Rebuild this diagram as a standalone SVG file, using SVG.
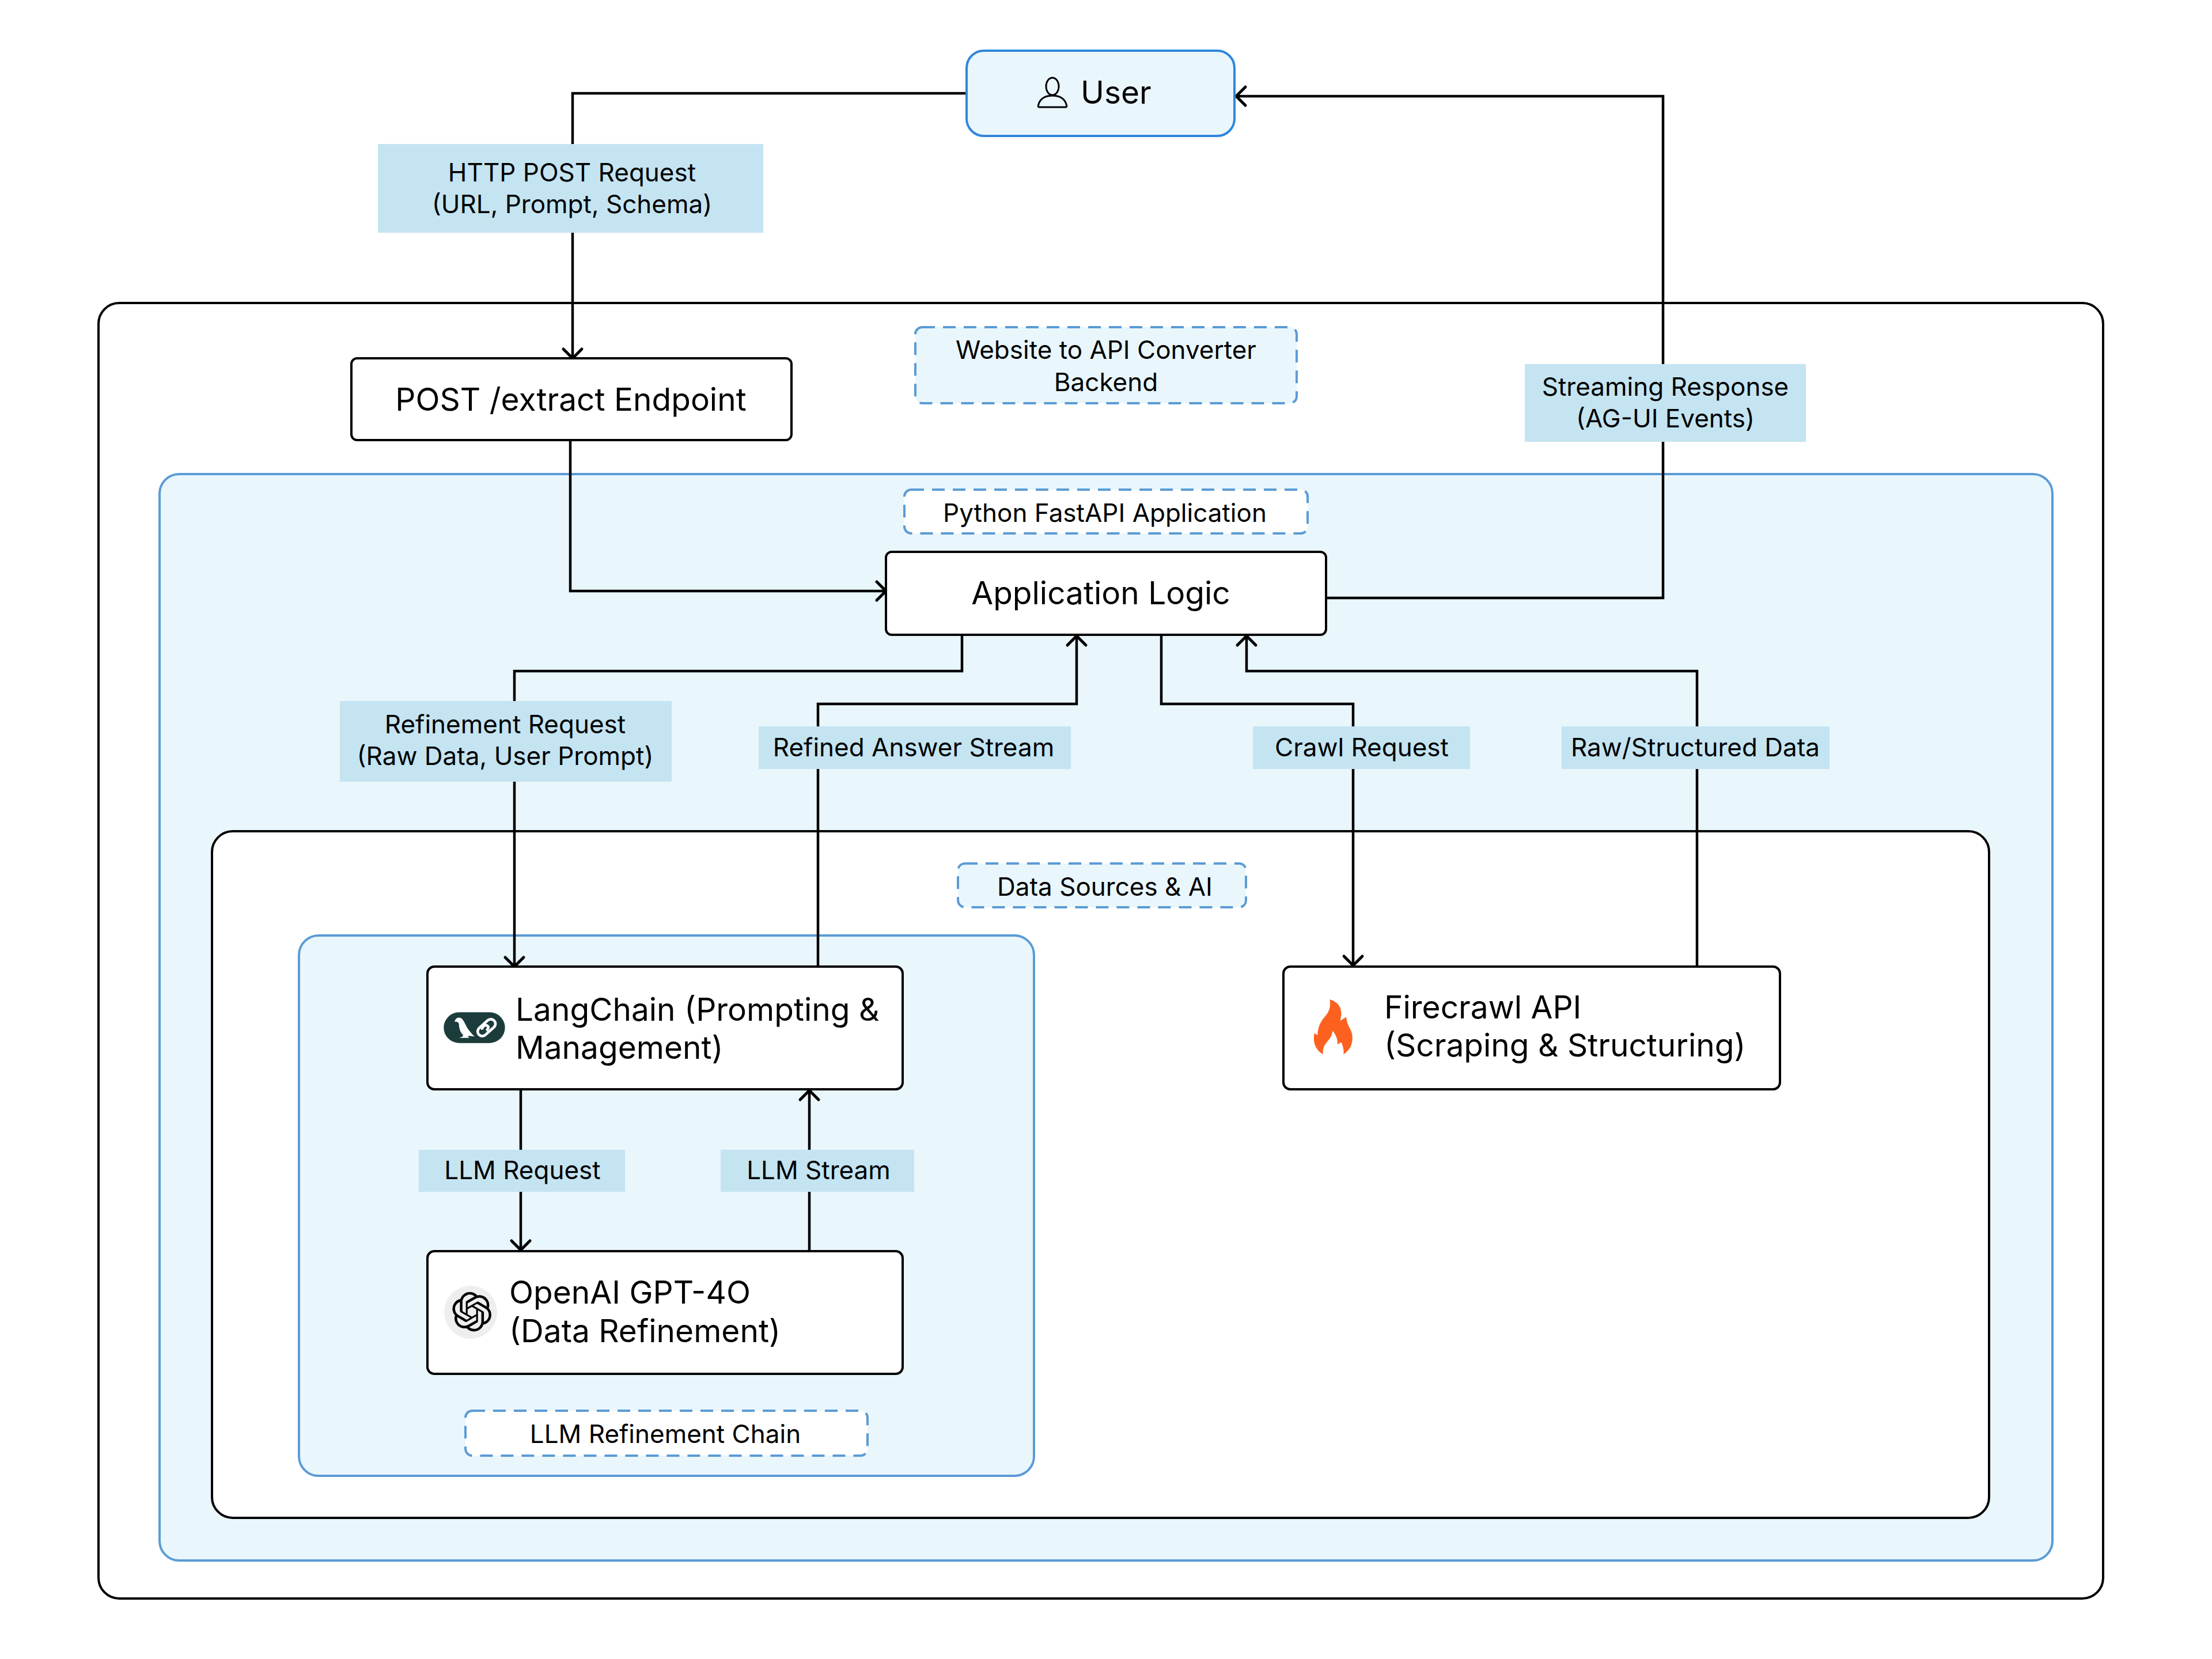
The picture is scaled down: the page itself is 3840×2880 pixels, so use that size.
<svg xmlns="http://www.w3.org/2000/svg" width="3840" height="2880" viewBox="0 0 3840 2880">
<style>
text{font-family:"Inter","Liberation Sans",sans-serif;fill:#000}
.n{font-size:55px}.l{font-size:44px;text-anchor:middle}.c{text-anchor:middle}
.box{fill:#fff;stroke:#000;stroke-width:4}
.grp{fill:#e9f6fc;stroke:#5b9bd5;stroke-width:4}
.dash{stroke:#5b9bd5;stroke-width:4;stroke-dasharray:22 14}
.lab{fill:#c4e4f2}
.cn{fill:none;stroke:#000;stroke-width:4.5;marker-end:url(#a)}
</style>
<defs><marker id="a" markerUnits="userSpaceOnUse" markerWidth="40" markerHeight="40" refX="21" refY="20" orient="auto"><path d="M5 4L21 20L5 36" fill="none" stroke="#000" stroke-width="5" stroke-linecap="round" stroke-linejoin="round"/></marker></defs>
<rect width="3840" height="2880" fill="#fff"/>
<g id="backend"><rect x="171" y="526" width="3480" height="2249" rx="36" fill="#fff" stroke="#000" stroke-width="4"/></g>
<g id="fastapi"><rect class="grp" x="277" y="823" width="3286" height="1886" rx="34"/></g>
<g id="datasources"><rect x="368" y="1443" width="3085" height="1192" rx="36" fill="#fff" stroke="#000" stroke-width="4"/></g>
<g id="llmchain"><rect class="grp" x="519" y="1624" width="1276" height="938" rx="34"/></g>
<g id="connectors">
<path class="cn" d="M1678 162H994V622"/>
<path class="cn" d="M2304 1038H2887V167H2146"/>
<path class="cn" d="M990 764V1026H1538"/>
<path class="cn" d="M1670 1102V1165H893V1678"/>
<path class="cn" d="M1420 1678V1222H1869V1104"/>
<path class="cn" d="M2016 1102V1222H2349V1676"/>
<path class="cn" d="M2946 1678V1165H2164V1104"/>
<path class="cn" d="M904 1891V2170"/>
<path class="cn" d="M1405 2172V1893"/>
</g>
<g id="user"><rect x="1678" y="88" width="465" height="148" rx="30" fill="#e9f6fc" stroke="#2f86dd" stroke-width="4"/>
<ellipse cx="1827" cy="150" rx="11" ry="15" fill="none" stroke="#000" stroke-width="3"/><path d="M1805 186C1800 186 1803 182 1804 178C1808 170 1816 166 1827 166C1838 166 1846 170 1850 178C1851 182 1854 186 1849 186Z" fill="none" stroke="#000" stroke-width="3"/>
<text class="n" x="1876" y="180">User</text></g>
<g id="post"><rect class="box" x="610" y="622" width="764" height="142" rx="10"/><text class="n c" x="991" y="713">POST /extract Endpoint</text></g>
<g id="applogic"><rect class="box" x="1538" y="958" width="764" height="144" rx="10"/><text class="n c" x="1911" y="1049">Application Logic</text></g>
<g id="langchain"><rect class="box" x="742" y="1678" width="825" height="213" rx="12"/>
<g transform="translate(700,1650) scale(.3333)"><rect x="211" y="322" width="319" height="160" rx="80" fill="#1c3c3c"/>
<path d="M268 372C270 355 285 345 300 352C315 360 322 385 335 405C345 420 360 438 372 448L345 445L335 447L345 455L292 455L310 448L312 440C295 425 290 400 290 380C282 372 275 368 268 372Z" fill="#fff"/>
<g fill="none" stroke="#fff" stroke-width="14"><rect x="380" y="378" width="108" height="48" rx="24" transform="rotate(-42 434 402)"/><path d="M412 412C408 398 425 385 438 392C448 398 442 412 432 416"/></g></g>
<text class="n" x="895" y="1772">LangChain (Prompting &amp;</text><text class="n" x="895" y="1838">Management)</text></g>
<g id="openai"><rect class="box" x="742" y="2172" width="825" height="213" rx="12"/>
<circle cx="817" cy="2278" r="46" fill="#eee"/>
<path transform="translate(785,2243) scale(2.85)" fill="#000" d="M22.2819 9.8211a5.9847 5.9847 0 0 0-.5157-4.9108 6.0462 6.0462 0 0 0-6.5098-2.9A6.0651 6.0651 0 0 0 4.9807 4.1818a5.9847 5.9847 0 0 0-3.9977 2.9 6.0462 6.0462 0 0 0 .7427 7.0966 5.98 5.98 0 0 0 .511 4.9107 6.051 6.051 0 0 0 6.5146 2.9001A5.9847 5.9847 0 0 0 13.2599 24a6.0557 6.0557 0 0 0 5.7718-4.2058 5.9894 5.9894 0 0 0 3.9977-2.9001 6.0557 6.0557 0 0 0-.7475-7.0729zm-9.022 12.6081a4.4755 4.4755 0 0 1-2.8764-1.0408l.1419-.0804 4.7783-2.7582a.7948.7948 0 0 0 .3927-.6813v-6.7369l2.02 1.1686a.071.071 0 0 1 .038.052v5.5826a4.504 4.504 0 0 1-4.4945 4.4944zm-9.6607-4.1254a4.4708 4.4708 0 0 1-.5346-3.0137l.142.0852 4.783 2.7582a.7712.7712 0 0 0 .7806 0l5.8428-3.3685v2.3324a.0804.0804 0 0 1-.0332.0615L9.74 19.9502a4.4992 4.4992 0 0 1-6.1408-1.6464zM2.3408 7.8956a4.485 4.485 0 0 1 2.3655-1.9728V11.6a.7664.7664 0 0 0 .3879.6765l5.8144 3.3543-2.0201 1.1685a.0757.0757 0 0 1-.071 0l-4.8303-2.7865A4.504 4.504 0 0 1 2.3408 7.872zm16.5963 3.8558L13.1038 8.364 15.1192 7.2a.0757.0757 0 0 1 .071 0l4.8303 2.7913a4.4944 4.4944 0 0 1-.6765 8.1042v-5.6772a.79.79 0 0 0-.407-.667zm2.0107-3.0231l-.142-.0852-4.7735-2.7818a.7759.7759 0 0 0-.7854 0L9.409 9.2297V6.8974a.0662.0662 0 0 1 .0284-.0615l4.8303-2.7866a4.4992 4.4992 0 0 1 6.6802 4.66zM8.3065 12.863l-2.02-1.1638a.0804.0804 0 0 1-.038-.0567V6.0742a4.4992 4.4992 0 0 1 7.3757-3.4537l-.142.0805L8.704 5.459a.7948.7948 0 0 0-.3927.6813zm1.0976-2.3654l2.602-1.4998 2.6069 1.4998v2.9994l-2.5974 1.4997-2.6067-1.4997Z"/>
<text class="n" x="884" y="2263">OpenAI GPT-4O</text><text class="n" x="884" y="2330">(Data Refinement)</text></g>
<g id="firecrawl"><rect class="box" x="2228" y="1678" width="862" height="213" rx="12"/>
<path transform="translate(2200,1650) scale(.3333)" fill="#fc6120" d="M325 255C365 265 388 295 385 335C384 350 381 358 380 366C392 358 402 352 412 347C412 375 425 395 436 418C448 450 445 475 432 505C422 522 410 532 397 541C400 520 395 500 385 478C378 482 372 486 365 490C368 465 358 440 340 418C338 445 325 460 310 478C295 495 288 515 290 541C265 525 248 505 243 470C242 455 243 442 245 430C250 435 255 438 262 440C262 405 275 375 295 350C318 325 333 300 325 255Z"/>
<text class="n" x="2403" y="1768">Firecrawl API</text><text class="n" x="2403" y="1834">(Scraping &amp; Structuring)</text></g>
<g id="labels">
<rect class="lab" x="656" y="250" width="669" height="154"/><text class="l" x="993" y="315">HTTP POST Request</text><text class="l" x="993" y="370">(URL, Prompt, Schema)</text>
<rect class="lab" x="2647" y="632" width="488" height="135"/><text class="l" x="2891" y="687">Streaming Response</text><text class="l" x="2891" y="742">(AG-UI Events)</text>
<rect class="lab" x="590" y="1217" width="576" height="140"/><text class="l" x="877" y="1273">Refinement Request</text><text class="l" x="877" y="1328">(Raw Data, User Prompt)</text>
<rect class="lab" x="1317" y="1261" width="542" height="74"/><text class="l" x="1586" y="1313">Refined Answer Stream</text>
<rect class="lab" x="2175" y="1261" width="377" height="74"/><text class="l" x="2364" y="1313">Crawl Request</text>
<rect class="lab" x="2711" y="1261" width="465" height="74"/><text class="l" x="2943" y="1313">Raw/Structured Data</text>
<rect class="lab" x="727" y="1996" width="358" height="73"/><text class="l" x="907" y="2047">LLM Request</text>
<rect class="lab" x="1251" y="1996" width="336" height="73"/><text class="l" x="1421" y="2047">LLM Stream</text>
</g>
<g id="titles">
<rect class="dash" x="1589" y="568" width="662" height="132" rx="12" fill="#e9f6fc"/><text class="l" x="1920" y="623">Website to API Converter</text><text class="l" x="1920" y="679">Backend</text>
<rect class="dash" x="1570" y="850" width="700" height="76" rx="12" fill="#fff"/><text class="l" x="1918" y="906">Python FastAPI Application</text>
<rect class="dash" x="1663" y="1499" width="500" height="76" rx="12" fill="#e9f6fc"/><text class="l" x="1918" y="1555">Data Sources &amp; AI</text>
<rect class="dash" x="808" y="2449" width="698" height="78" rx="12" fill="#fff"/><text class="l" x="1155" y="2505">LLM Refinement Chain</text>
</g>
</svg>
